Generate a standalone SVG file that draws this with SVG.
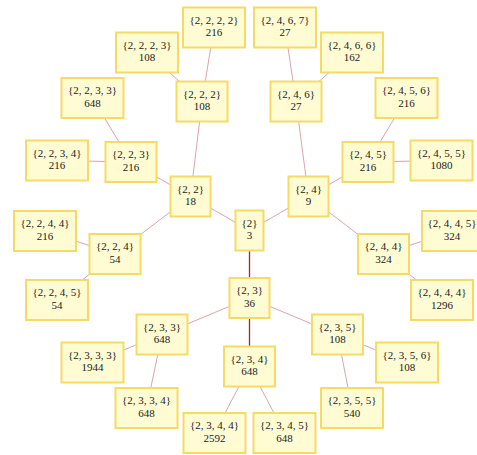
<svg xmlns="http://www.w3.org/2000/svg" width="477" height="455" viewBox="0 0 477 455">
  <style>
    .box rect { fill: #fffcd4; stroke: #f5da66; stroke-width: 2; }
    .box text { font-size: 11px; fill: #1a1a1a; text-anchor: middle; }
    .edge { stroke: #d9a6ad; stroke-width: 1; fill: none; }
    .edge.main { stroke: #9e2a24; stroke-width: 1.3; }
  </style>
  <rect width="477" height="455" fill="#ffffff"/>

  <g id="connectors">
    <line class="edge" x1="249.5" y1="230.5" x2="190.5" y2="196.5"/>
    <line class="edge" x1="249.5" y1="230.5" x2="308.5" y2="196.5"/>
    <line class="edge main" x1="249.5" y1="230.5" x2="249.5" y2="298"/>
    <line class="edge" x1="190.5" y1="196.5" x2="202" y2="101.5"/>
    <line class="edge" x1="190.5" y1="196.5" x2="131" y2="162"/>
    <line class="edge" x1="190.5" y1="196.5" x2="115" y2="254"/>
    <line class="edge" x1="308.5" y1="196.5" x2="296" y2="101.5"/>
    <line class="edge" x1="308.5" y1="196.5" x2="368" y2="162"/>
    <line class="edge" x1="308.5" y1="196.5" x2="383.5" y2="254"/>
    <line class="edge" x1="249.5" y1="298" x2="162" y2="334.5"/>
    <line class="edge main" x1="249.5" y1="298" x2="249.5" y2="366.5"/>
    <line class="edge" x1="249.5" y1="298" x2="337.5" y2="334.5"/>
    <line class="edge" x1="202" y1="101.5" x2="214" y2="27.5"/>
    <line class="edge" x1="202" y1="101.5" x2="147" y2="52.5"/>
    <line class="edge" x1="131" y1="162" x2="92.5" y2="98"/>
    <line class="edge" x1="131" y1="162" x2="57" y2="160.5"/>
    <line class="edge" x1="115" y1="254" x2="45" y2="231"/>
    <line class="edge" x1="115" y1="254" x2="57" y2="300"/>
    <line class="edge" x1="296" y1="101.5" x2="285" y2="27.5"/>
    <line class="edge" x1="296" y1="101.5" x2="352" y2="52.5"/>
    <line class="edge" x1="368" y1="162" x2="406.5" y2="98"/>
    <line class="edge" x1="368" y1="162" x2="441.5" y2="160.5"/>
    <line class="edge" x1="383.5" y1="254" x2="453" y2="231"/>
    <line class="edge" x1="383.5" y1="254" x2="442" y2="300"/>
    <line class="edge" x1="162" y1="334.5" x2="92.5" y2="362.5"/>
    <line class="edge" x1="162" y1="334.5" x2="146.5" y2="408"/>
    <line class="edge" x1="249.5" y1="366.5" x2="214.5" y2="433"/>
    <line class="edge" x1="249.5" y1="366.5" x2="284.5" y2="433"/>
    <line class="edge" x1="337.5" y1="334.5" x2="407" y2="362.5"/>
    <line class="edge" x1="337.5" y1="334.5" x2="352" y2="408"/>
  </g>

  <g id="nodes" font-family="'Liberation Serif', 'Times New Roman', serif">
  <g id="n2" class="box"><rect x="235.5" y="210.5" width="28" height="40"/><text x="249.5" y="226.5">{2}</text><text x="249.5" y="239">3</text></g>
  <g id="n22" class="box"><rect x="170.5" y="176.5" width="40" height="40"/><text x="190.5" y="192.5">{2, 2}</text><text x="190.5" y="205">18</text></g>
  <g id="n24" class="box"><rect x="288.5" y="176.5" width="40" height="40"/><text x="308.5" y="192.5">{2, 4}</text><text x="308.5" y="205">9</text></g>
  <g id="n23" class="box"><rect x="229.5" y="278" width="40" height="40"/><text x="249.5" y="294">{2, 3}</text><text x="249.5" y="306.5">36</text></g>

  <g id="n222" class="box"><rect x="176.5" y="81.5" width="51" height="40"/><text x="202" y="97.5">{2, 2, 2}</text><text x="202" y="110">108</text></g>
  <g id="n223" class="box"><rect x="105.5" y="142" width="51" height="40"/><text x="131" y="158">{2, 2, 3}</text><text x="131" y="170.5">216</text></g>
  <g id="n224" class="box"><rect x="89.5" y="234" width="51" height="40"/><text x="115" y="250">{2, 2, 4}</text><text x="115" y="262.5">54</text></g>
  <g id="n246" class="box"><rect x="270.5" y="81.5" width="51" height="40"/><text x="296" y="97.5">{2, 4, 6}</text><text x="296" y="110">27</text></g>
  <g id="n245" class="box"><rect x="342.5" y="142" width="51" height="40"/><text x="368" y="158">{2, 4, 5}</text><text x="368" y="170.5">216</text></g>
  <g id="n244" class="box"><rect x="358" y="234" width="51" height="40"/><text x="383.5" y="250">{2, 4, 4}</text><text x="383.5" y="262.5">324</text></g>
  <g id="n233" class="box"><rect x="136.5" y="314.5" width="51" height="40"/><text x="162" y="330.5">{2, 3, 3}</text><text x="162" y="343">648</text></g>
  <g id="n234" class="box"><rect x="224" y="346.5" width="51" height="40"/><text x="249.5" y="362.5">{2, 3, 4}</text><text x="249.5" y="375">648</text></g>
  <g id="n235" class="box"><rect x="312" y="314.5" width="51" height="40"/><text x="337.5" y="330.5">{2, 3, 5}</text><text x="337.5" y="343">108</text></g>

  <g id="n2222" class="box"><rect x="183" y="7.5" width="62" height="40"/><text x="214" y="23.5">{2, 2, 2, 2}</text><text x="214" y="36">216</text></g>
  <g id="n2223" class="box"><rect x="116" y="32.5" width="62" height="40"/><text x="147" y="48.5">{2, 2, 2, 3}</text><text x="147" y="61">108</text></g>
  <g id="n2233" class="box"><rect x="61.5" y="78" width="62" height="40"/><text x="92.5" y="94">{2, 2, 3, 3}</text><text x="92.5" y="106.5">648</text></g>
  <g id="n2234" class="box"><rect x="26" y="140.5" width="62" height="40"/><text x="57" y="156.5">{2, 2, 3, 4}</text><text x="57" y="169">216</text></g>
  <g id="n2244" class="box"><rect x="14" y="211" width="62" height="40"/><text x="45" y="227">{2, 2, 4, 4}</text><text x="45" y="239.5">216</text></g>
  <g id="n2245" class="box"><rect x="26" y="280" width="62" height="40"/><text x="57" y="296">{2, 2, 4, 5}</text><text x="57" y="308.5">54</text></g>
  <g id="n2467" class="box"><rect x="254" y="7.5" width="62" height="40"/><text x="285" y="23.5">{2, 4, 6, 7}</text><text x="285" y="36">27</text></g>
  <g id="n2466" class="box"><rect x="321" y="32.5" width="62" height="40"/><text x="352" y="48.5">{2, 4, 6, 6}</text><text x="352" y="61">162</text></g>
  <g id="n2456" class="box"><rect x="375.5" y="78" width="62" height="40"/><text x="406.5" y="94">{2, 4, 5, 6}</text><text x="406.5" y="106.5">216</text></g>
  <g id="n2455" class="box"><rect x="410.5" y="140.5" width="62" height="40"/><text x="441.5" y="156.5">{2, 4, 5, 5}</text><text x="441.5" y="169">1080</text></g>
  <g id="n2445" class="box"><rect x="422" y="211" width="62" height="40"/><text x="452" y="227">{2, 4, 4, 5}</text><text x="452" y="239.5">324</text></g>
  <g id="n2444" class="box"><rect x="411" y="280" width="62" height="40"/><text x="442" y="296">{2, 4, 4, 4}</text><text x="442" y="308.5">1296</text></g>
  <g id="n2333" class="box"><rect x="61.5" y="342.5" width="62" height="40"/><text x="92.5" y="358.5">{2, 3, 3, 3}</text><text x="92.5" y="371">1944</text></g>
  <g id="n2334" class="box"><rect x="115.5" y="388" width="62" height="40"/><text x="146.5" y="404">{2, 3, 3, 4}</text><text x="146.5" y="416.5">648</text></g>
  <g id="n2344" class="box"><rect x="183.5" y="413" width="62" height="40"/><text x="214.5" y="429">{2, 3, 4, 4}</text><text x="214.5" y="441.5">2592</text></g>
  <g id="n2345" class="box"><rect x="253.5" y="413" width="62" height="40"/><text x="284.5" y="429">{2, 3, 4, 5}</text><text x="284.5" y="441.5">648</text></g>
  <g id="n2356" class="box"><rect x="376" y="342.5" width="62" height="40"/><text x="407" y="358.5">{2, 3, 5, 6}</text><text x="407" y="371">108</text></g>
  <g id="n2355" class="box"><rect x="321" y="388" width="62" height="40"/><text x="352" y="404">{2, 3, 5, 5}</text><text x="352" y="416.5">540</text></g>
  </g>
</svg>
